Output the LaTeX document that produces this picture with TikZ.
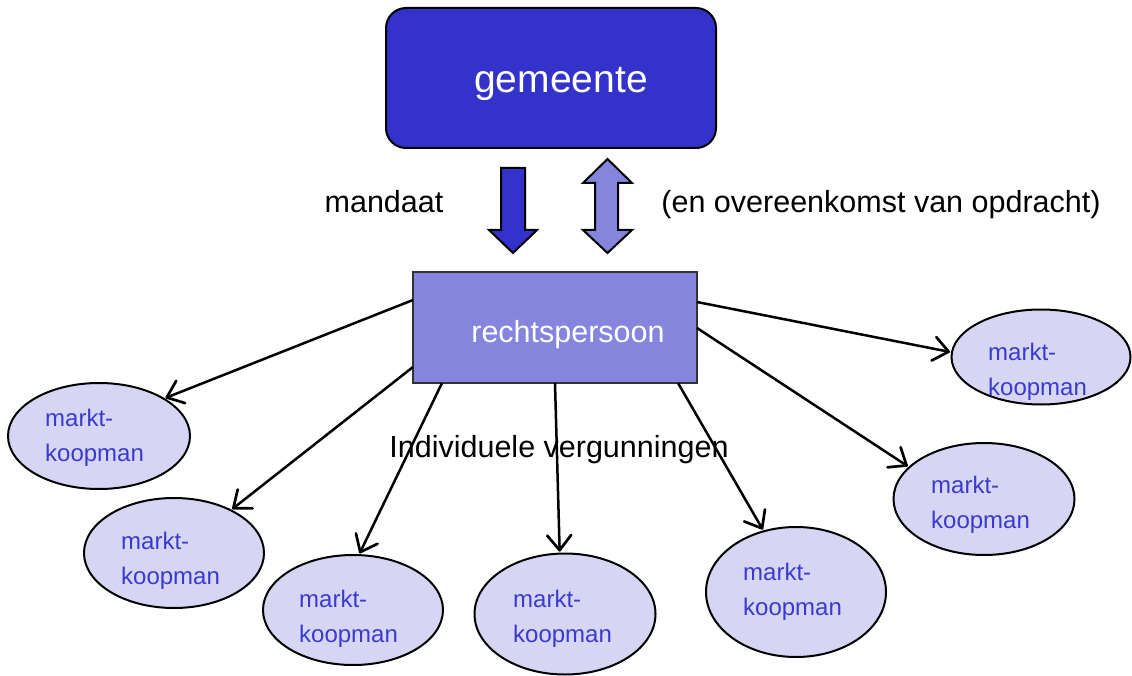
\documentclass[tikz,border=0pt]{standalone}
\usepackage{fontspec}
\setmainfont{Liberation Sans}
\usetikzlibrary{arrows.meta,shapes.geometric,calc}
\definecolor{darkblue}{HTML}{3333CC}
\definecolor{midblue}{HTML}{8585DD}
\definecolor{paleblue}{HTML}{D6D6F4}
\definecolor{mktext}{HTML}{3A3ACF}
\begin{document}
\begin{tikzpicture}[x=1pt,y=-1pt,
  topbox/.style={draw=black, line width=2pt, fill=darkblue, rounded corners=20pt,
    minimum width=330pt, minimum height=140pt, inner sep=0pt, outer sep=0pt},
  rpbox/.style={draw=black!80, line width=1.5pt, fill=midblue,
    minimum width=284pt, minimum height=111pt, inner sep=0pt, outer sep=0pt},
  boxtext/.style={text=white, inner sep=0pt},
  mk/.style={ellipse, draw=black, line width=2pt, fill=paleblue, inner sep=0pt, outer sep=0pt},
  mktxt/.style={anchor=west, align=left, text=mktext, inner sep=0pt,
    font=\fontsize{24}{35}\selectfont},
  lbl/.style={text=black, inner sep=0pt, font=\fontsize{30.5}{36}\selectfont},
  conn/.style={draw=black, line width=2.5pt, shorten >=2pt,
    -{Straight Barb[length=15pt,width=24pt,line width=2.7pt,round]}},
  bigarrow/.style={draw=black, line width=2pt, line join=miter}
]
\useasboundingbox (0,0) rectangle (1132,676);

% boxes
\node[topbox] (gem) at (551,78) {};
\node[boxtext, anchor=base, font=\fontsize{39}{47}\selectfont] (gemtxt) at (561,93) {gemeente};
\node[rpbox] (rp) at (555,327.5) {};
\node[boxtext, anchor=base, font=\fontsize{30.5}{36}\selectfont] (rptxt) at (568,342) {rechtspersoon};

% block arrows
\draw[bigarrow, fill=darkblue] (501,168) -- (525,168) -- (525,230) -- (537,230) -- (513,253) -- (489,230) -- (501,230) -- cycle;
\draw[bigarrow, fill=midblue] (607.5,159) -- (632,183) -- (618,183) -- (618,230) -- (632,230) -- (607.5,253) -- (583,230) -- (595,230) -- (595,183) -- (583,183) -- cycle;

% labels
\node[lbl, anchor=base] (mand) at (384,213) {mandaat};
\node[lbl, anchor=base] (ovk) at (881,213) {(en overeenkomst van opdracht)};
\node[lbl, anchor=base] (iv) at (559,457) {Individuele vergunningen};

% ellipses
\node[mk, minimum width=182pt, minimum height=106pt] (e1) at (99,436) {};
\node[mk, minimum width=180pt, minimum height=110pt] (e2) at (174,553) {};
\node[mk, minimum width=180pt, minimum height=110pt] (e3) at (353,610) {};
\node[mk, minimum width=181pt, minimum height=121pt] (e4) at (565,614) {};
\node[mk, minimum width=180pt, minimum height=130pt] (e5) at (796,592) {};
\node[mk, minimum width=181pt, minimum height=112pt] (e6) at (984,499) {};
\node[mk, minimum width=179pt, minimum height=95pt] (e7) at (1041,357) {};

\node[mktxt] (t1) at (45,437.5) {markt-\\koopman};
\node[mktxt] (t2) at (121,560.5) {markt-\\koopman};
\node[mktxt] (t3) at (299,619) {markt-\\koopman};
\node[mktxt] (t4) at (513,618.5) {markt-\\koopman};
\node[mktxt] (t5) at (743,591.5) {markt-\\koopman};
\node[mktxt] (t6) at (931,504.5) {markt-\\koopman};
\node[mktxt] (t7) at (988,371.5) {markt-\\koopman};

% connectors
\draw[conn] ([yshift=-28pt]rp.north west) -- (e1.30);
\draw[conn] ([yshift=-95pt]rp.north west) -- (e2.37);
\draw[conn] ([xshift=29pt]rp.south west) -- (e3.84);
\draw[conn] ([xshift=142pt]rp.south west) -- (e4.95);
\draw[conn] ([xshift=265pt]rp.south west) -- (e5.118);
\draw[conn] ([yshift=-56pt]rp.north east) -- (e6.157);
\draw[conn] ([yshift=-30pt]rp.north east) -- (e7.177);
\end{tikzpicture}
\end{document}
